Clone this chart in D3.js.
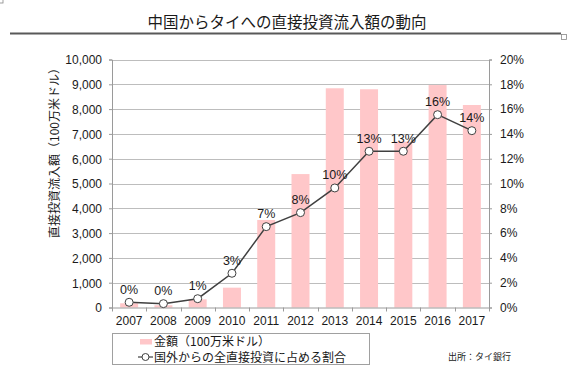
<!DOCTYPE html>
<html>
<head>
<meta charset="utf-8">
<script src="https://cdn.jsdelivr.net/npm/d3@7"></script>
<style>
  html, body { margin: 0; padding: 0; background: #ffffff; }
  svg { display: block; }
  text { font-family: "Liberation Sans", Arial, "Noto Sans CJK JP", sans-serif; fill: #1a1a1a; }
  .jp { font-family: "Noto Sans CJK JP", "Liberation Sans", sans-serif; }
</style>
</head>
<body>
<svg id="chart" width="580" height="377"></svg>
<script>
// ---- data ----
const years = ["2007", "2008", "2009", "2010", "2011", "2012", "2013", "2014", "2015", "2016", "2017"];
const amounts = [170, 90, 330, 800, 3530, 5380, 8840, 8800, 6690, 8970, 8165];      // million USD
const shares = [0.42, 0.31, 0.71, 2.76, 6.52, 7.65, 9.64, 12.6, 12.6, 15.55, 14.26]; // %
const leftTicks = [0, 1000, 2000, 3000, 4000, 5000, 6000, 7000, 8000, 9000, 10000];
const rightTicks = [0, 2, 4, 6, 8, 10, 12, 14, 16, 18, 20];

const titleText = "中国からタイへの直接投資流入額の動向";
const yTitleText = "直接投資流入額（100万米ドル）";
const legendBar = "金額（100万米ドル）";
const legendLine = "国外からの全直接投資に占める割合";
const sourceText = "出所：タイ銀行";

// ---- layout ----
const svg = d3.select("#chart");
const L = 112, R = 489, T = 59.5, B = 307.5;

const x = d3.scaleBand().domain(years).range([L, R]).paddingInner(0.475).paddingOuter(0.2375);
const yL = d3.scaleLinear().domain([0, 10000]).range([B, T]);
const yR = d3.scaleLinear().domain([0, 20]).range([B, T]);

// title
svg.append("text").attr("class", "jp")
  .attr("x", 287).attr("y", 27.5).attr("text-anchor", "middle")
  .style("font-size", "15.5px").text(titleText);
svg.append("line").attr("x1", 10).attr("x2", 561).attr("y1", 33.5).attr("y2", 33.5)
  .attr("stroke", "#595959").attr("stroke-width", 2);
// selection handles
svg.append("rect").attr("x", 561.5).attr("y", 34.5).attr("width", 5).attr("height", 5)
  .attr("fill", "#fff").attr("stroke", "#888").attr("stroke-width", 0.8);
svg.append("rect").attr("x", -2).attr("y", -2).attr("width", 5).attr("height", 5)
  .attr("fill", "#fff").attr("stroke", "#888").attr("stroke-width", 0.8);

// gridlines
svg.append("g").selectAll("line").data(leftTicks.slice(1)).join("line")
  .attr("x1", L).attr("x2", R)
  .attr("y1", d => Math.round(yL(d)) + 0.5).attr("y2", d => Math.round(yL(d)) + 0.5)
  .attr("stroke", "#bdbdbd").attr("stroke-width", 1);

// bars
svg.append("g").selectAll("rect").data(years).join("rect")
  .attr("x", (d, i) => x(d))
  .attr("width", x.bandwidth())
  .attr("y", (d, i) => yL(amounts[i]))
  .attr("height", (d, i) => B - yL(amounts[i]))
  .attr("fill", "#ffc7c9");

// axes
const axL = svg.append("g").attr("transform", `translate(${L},0)`)
  .call(d3.axisLeft(yL).tickValues(leftTicks).tickSize(3).tickPadding(7).tickFormat(d3.format(",")));
const axR = svg.append("g").attr("transform", `translate(${R},0)`)
  .call(d3.axisRight(yR).tickValues(rightTicks).tickSize(3).tickPadding(8).tickFormat(d => d + "%"));
const axB = svg.append("g").attr("transform", `translate(0,${B})`)
  .call(d3.axisBottom(x).tickSize(0).tickPadding(9));
[axL, axR, axB].forEach(g => {
  g.select(".domain").attr("stroke", "#9a9a9a");
  g.selectAll(".tick line").attr("stroke", "#9a9a9a");
  g.selectAll("text").style("font-size", "12px").attr("fill", "#1a1a1a")
    .style("font-family", '"Liberation Sans", Arial, sans-serif');
});
axL.selectAll(".tick text").attr("dy", "0.36em");
// x-axis boundary ticks
const bounds = years.map(d => x(d) - x.step() * x.paddingInner() / 2).concat([R]);
svg.append("g").selectAll("line").data(bounds).join("line")
  .attr("x1", d => Math.round(d) + 0.5).attr("x2", d => Math.round(d) + 0.5)
  .attr("y1", B).attr("y2", B + 4).attr("stroke", "#9a9a9a");

// y-axis title
svg.append("text").attr("class", "jp")
  .attr("transform", "translate(59,150) rotate(-90)")
  .attr("text-anchor", "middle").style("font-size", "12px")
  .text(yTitleText);

// line
const cx = d => x(d) + x.bandwidth() / 2;
const line = d3.line().x((d, i) => cx(years[i])).y(d => yR(d));
svg.append("path").datum(shares).attr("d", line)
  .attr("fill", "none").attr("stroke", "#404040").attr("stroke-width", 1.5);
svg.append("g").selectAll("circle").data(shares).join("circle")
  .attr("cx", (d, i) => cx(years[i])).attr("cy", d => yR(d)).attr("r", 4)
  .attr("fill", "#fff").attr("stroke", "#404040").attr("stroke-width", 1);
svg.append("g").selectAll("text").data(shares).join("text")
  .attr("x", (d, i) => cx(years[i])).attr("y", d => yR(d) - 8.5)
  .attr("text-anchor", "middle").style("font-size", "12.5px")
  .text(d => Math.round(d) + "%");

// legend
const lg = svg.append("g");
lg.append("rect").attr("x", 112.5).attr("y", 333.5).attr("width", 257).attr("height", 31)
  .attr("fill", "#fff").attr("stroke", "#a0a0a0").attr("stroke-width", 1);
lg.append("rect").attr("x", 140).attr("y", 339).attr("width", 12).attr("height", 5.5).attr("fill", "#ffc7c9");
lg.append("text").attr("class", "jp").attr("x", 154).attr("y", 346).style("font-size", "12px").text(legendBar);
lg.append("line").attr("x1", 138).attr("x2", 153).attr("y1", 357).attr("y2", 357)
  .attr("stroke", "#404040").attr("stroke-width", 1.2);
lg.append("circle").attr("cx", 145.5).attr("cy", 357).attr("r", 3.5)
  .attr("fill", "#fff").attr("stroke", "#404040").attr("stroke-width", 1);
lg.append("text").attr("class", "jp").attr("x", 154).attr("y", 361.5).style("font-size", "12px").text(legendLine);

// source
svg.append("text").attr("class", "jp").attr("x", 448).attr("y", 359.5)
  .style("font-size", "9px").text(sourceText);
</script>
</body>
</html>
